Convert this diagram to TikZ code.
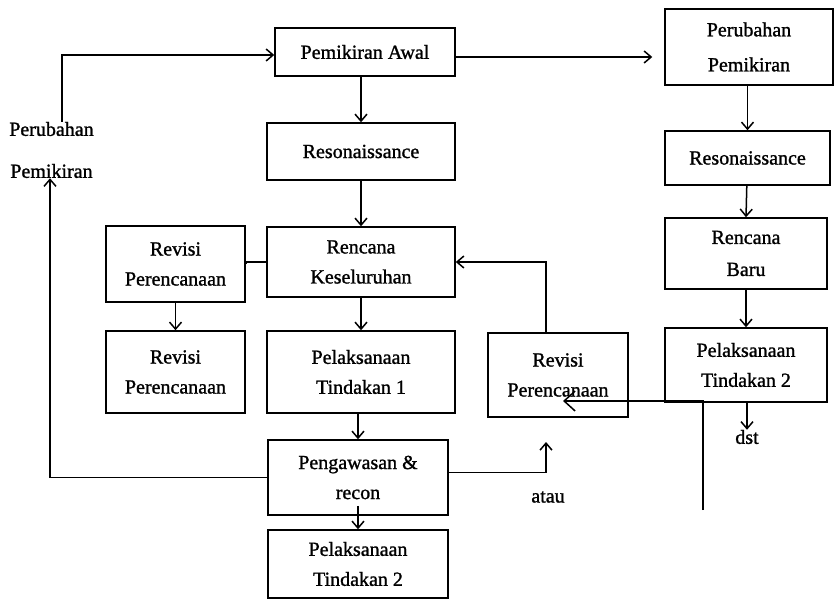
\documentclass[tikz,border=0pt]{standalone}
\usepackage{fontspec}
\setmainfont{Liberation Serif}
\newfontfamily\diagfont{Liberation Serif}[FakeBold=1.2]
\usetikzlibrary{arrows.meta,calc}
\begin{document}
\begin{tikzpicture}[x=1pt,y=-1pt,
  box/.style={draw, line width=1.5pt, inner sep=0pt, align=center,
    font=\diagfont\fontsize{20}{30}\selectfont},
  lbl/.style={inner sep=0pt, align=center, font=\diagfont\fontsize{20}{30}\selectfont},
  arr/.style={line width=1.5pt, -{Straight Barb[length=7pt,width=12pt,line width=1.5pt]}},
  conn/.style={line width=1.5pt},
  bigarr/.style={line width=1.2pt, -{Straight Barb[length=11pt,width=20pt,line width=1.5pt]}}]
\useasboundingbox (0,0) rectangle (835,601);

% central column
\node[box, minimum width=180, minimum height=48] (awal) at (365,52) {Pemikiran Awal};
\node[box, minimum width=188, minimum height=57] (reso1) at (361,151.5) {Resonaissance};
\node[box, minimum width=188, minimum height=70] (renc) at (361,262) {Rencana\\Keseluruhan};
\node[box, minimum width=188, minimum height=82] (pel1) at (361,372) {Pelaksanaan\\Tindakan 1};
\node[box, minimum width=180, minimum height=75] (peng) at (358,477.5) {Pengawasan \&\\recon};
\node[box, minimum width=180, minimum height=68] (pel2b) at (358,564) {Pelaksanaan\\Tindakan 2};

% left column
\node[box, minimum width=139, minimum height=76] (rev1) at (175.5,264) {Revisi\\Perencanaan};
\node[box, minimum width=139, minimum height=82] (rev2) at (175.5,372) {Revisi\\Perencanaan};
\node[lbl, font=\diagfont\fontsize{20}{42}\selectfont] (left) at (51.5,150) {Perubahan\\Pemikiran};

% middle revision box
\node[box, minimum width=140, minimum height=84] (revm) at (558,375) {Revisi\\Perencanaan};

% right column
\node[box, minimum width=168, minimum height=76, font=\diagfont\fontsize{20}{35}\selectfont] (perR) at (749,47) {Perubahan\\Pemikiran};
\node[box, minimum width=165, minimum height=54] (resoR) at (747.5,158) {Resonaissance};
\node[box, minimum width=162, minimum height=71, font=\diagfont\fontsize{20}{32}\selectfont] (baru) at (746,253.5) {Rencana\\Baru};
\node[box, minimum width=162, minimum height=74] (pel2R) at (746,365) {Pelaksanaan\\Tindakan 2};

\node[lbl] (dst) at (747,437) {dst};
\node[lbl] (atau) at (548,497) {atau};

\coordinate (ataup) at (546,442);
\coordinate (vbot) at (703,510);
\coordinate (revtip) at (563,401);

% vertical flow
\draw[arr] (awal.south -| reso1) -- (reso1.north);
\draw[arr] (reso1) -- (renc.north);
\draw[arr] (renc) -- (pel1.north);
\draw[arr] (pel1.south -| peng) -- (peng.north);
\draw[arr] ([yshift=10]peng.south) -- (pel2b.north);
\draw[arr] (rev1) -- (rev2.north);
\draw[conn] (rev1.east) -- (renc.west -| rev1.east) -- (renc.west);

\draw[arr] (perR.south -| resoR) -- (resoR.north);
\draw[arr] (resoR) -- (baru.north);
\draw[arr] (baru) -- (pel2R.north);
\draw[arr] (pel2R.south -| dst) -- (dst.north);

% feedback and change connectors
\draw[arr, shorten >=12pt] ([yshift=-5]awal.east) -- ([yshift=-5]awal.east -| perR.west);
\draw[arr] ([xshift=10.5]left.north) |- ([yshift=-3]awal.west);
\draw[arr] (peng.west) -| ([xshift=-1.5]left.south);
\draw[arr] ([yshift=5]peng.east) -| (ataup);
\draw[arr] ([xshift=-12]revm.north) |- (renc.east);
\draw[bigarr] (vbot) |- (revtip);
\end{tikzpicture}
\end{document}
